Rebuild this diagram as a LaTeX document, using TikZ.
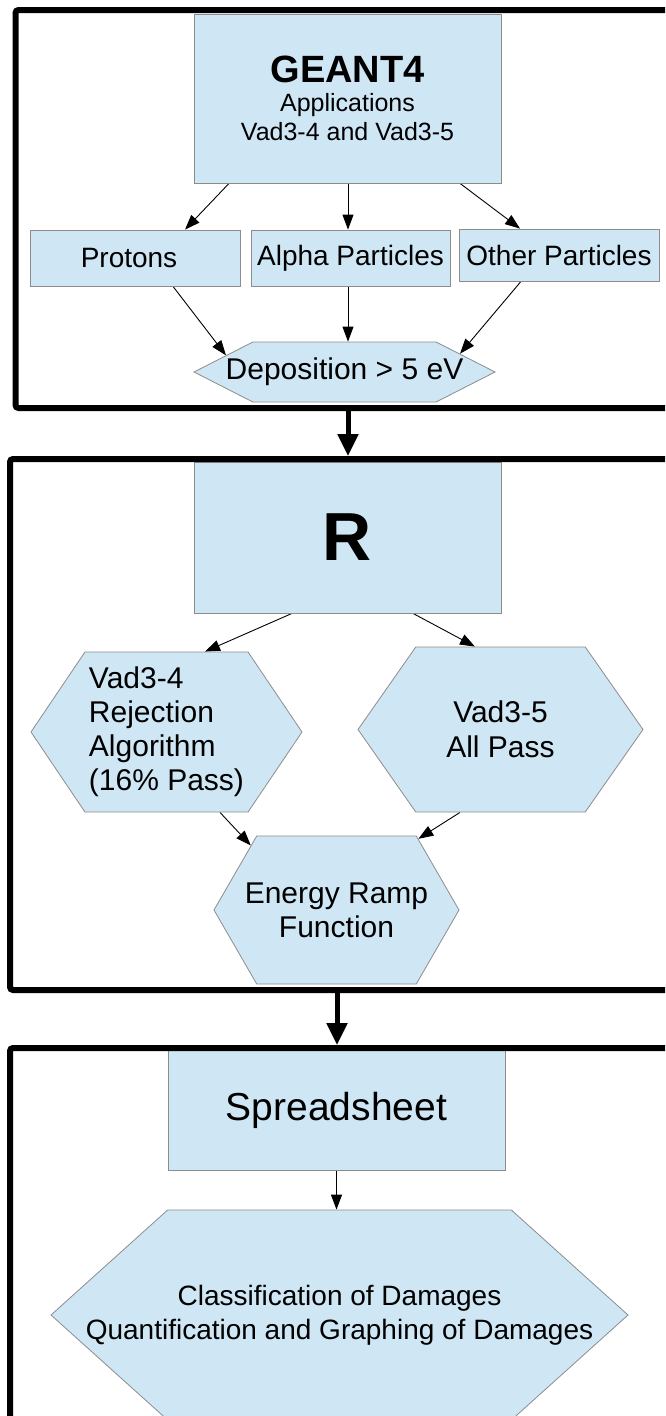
\documentclass[tikz,border=0pt]{standalone}
\usepackage{fontspec}
\setmainfont{Liberation Sans}
\usetikzlibrary{shapes.symbols,arrows.meta}
\definecolor{boxfill}{RGB}{207,231,245}
\definecolor{boxline}{RGB}{140,140,140}
\pgfdeclarelayer{edgelayer}
\pgfdeclarelayer{nodelayer}
\pgfsetlayers{edgelayer,nodelayer,main}
\tikzstyle{none}=[inner sep=0pt]
\tikzstyle{box}=[draw=boxline, fill=boxfill, line width=0.8pt, inner sep=0pt, align=center, font=\fontsize{28}{34}\selectfont]
\tikzstyle{hexa}=[box, shape=signal, signal to=west and east]
\tikzstyle{flow}=[-{Triangle[length=15pt,width=11pt]}, line width=0.9pt]
\tikzstyle{bigflow}=[-{Triangle[length=22pt,width=20pt]}, line width=5pt]
\tikzstyle{stage}=[draw=black, line width=6pt, rounded corners=3pt]
\newcommand{\hexline}[1]{\makebox[0pt]{#1}}

\begin{document}
\begin{tikzpicture}[x=1pt, y=-1pt]
			\clip (0,0) rectangle (665,1416);
			\begin{pgfonlayer}{nodelayer}
			\node [style=box, minimum width=307pt, minimum height=169pt, font=\fontsize{25}{29}\selectfont] (geant) at (347.5, 98.5) {{\fontsize{38}{38}\selectfont\bfseries GEANT4}\\Applications\\Vad3-4 and Vad3-5};
			\node [style=box, minimum width=210pt, minimum height=56pt] (protons) at (135, 258) {Protons\hspace*{12pt}};
			\node [style=box, minimum width=199pt, minimum height=56pt] (alpha) at (350.5, 258) {Alpha Particles};
			\node [style=box, minimum width=200pt, minimum height=52pt] (other) at (559, 255) {Other Particles};
			\node [style=hexa, signal pointer angle=54, minimum width=301pt, minimum height=60pt, font=\fontsize{30}{34}\selectfont] (depo) at (344.5, 372) {\hexline{Deposition > 5 eV}};
			\node [style=box, minimum width=307pt, minimum height=151pt, font=\fontsize{68}{68}\selectfont\bfseries] (rbox) at (347.5, 537.5) {R};
			\node [style=hexa, signal pointer angle=112, minimum width=271pt, minimum height=160pt, align=left, font=\fontsize{30}{34}\selectfont] (vadfour) at (166.5, 732) {Vad3-4\\Rejection\\Algorithm\\(16\% Pass)};
			\node [style=hexa, signal pointer angle=110, minimum width=285pt, minimum height=165pt, font=\fontsize{30}{35}\selectfont] (vadfive) at (500.5, 729.5) {Vad3-5\\All Pass};
			\node [style=hexa, signal pointer angle=120, minimum width=245pt, minimum height=148pt, font=\fontsize{30}{34}\selectfont] (energy) at (336.5, 910) {\hexline{Energy Ramp}\\\hexline{Function}};
			\node [style=box, minimum width=337pt, minimum height=120pt, font=\fontsize{39}{44}\selectfont] (sheet) at (336.5, 1110) {Spreadsheet};
			\node [style=hexa, signal pointer angle=84, minimum width=577pt, minimum height=210pt] (damage) at (339.5, 1315) {\hexline{Classification of Damages}\\\hexline{Quantification and Graphing of Damages}};
			\end{pgfonlayer}
			\begin{pgfonlayer}{edgelayer}
			\draw [style=flow] ([xshift=-118.5pt]geant.south) to ([xshift=50pt]protons.north);
			\draw [style=flow] ([xshift=0.5pt]geant.south) to ([xshift=-2.5pt]alpha.north);
			\draw [style=flow] ([xshift=112.5pt]geant.south) to ([xshift=-39pt]other.north);
			\draw [style=flow] ([xshift=38pt]protons.south) to (depo.172);
			\draw [style=flow] ([xshift=-2.5pt]alpha.south) to ([xshift=3.5pt]depo.north);
			\draw [style=flow] ([xshift=-38pt]other.south) to (depo.9);
			\draw [style=flow] ([xshift=-55.5pt]rbox.south) to ([xshift=38.5pt]vadfour.north);
			\draw [style=flow] ([xshift=65.5pt]rbox.south) to ([xshift=-25.5pt]vadfive.north);
			\draw [style=flow] ([xshift=53.5pt]vadfour.south) to (energy.143);
			\draw [style=flow] ([xshift=-40.5pt]vadfive.south) to (energy.41);
			\draw [style=flow] (sheet.south) to (sheet.south |- damage.north);
			\end{pgfonlayer}
			\draw [style=stage] (15.5, 10) rectangle (720, 408);
			\draw [style=stage] (10, 459) rectangle (720, 990);
			\draw [style=stage] (10, 1048) rectangle (720, 1500);
			\coordinate (out1) at (348, 408);
			\coordinate (in2) at (348, 456);
			\coordinate (out2) at (337, 990);
			\coordinate (in3) at (337, 1045);
			\draw [style=bigflow] (out1) to (in2);
			\draw [style=bigflow] (out2) to (in3);
\end{tikzpicture}
\end{document}
